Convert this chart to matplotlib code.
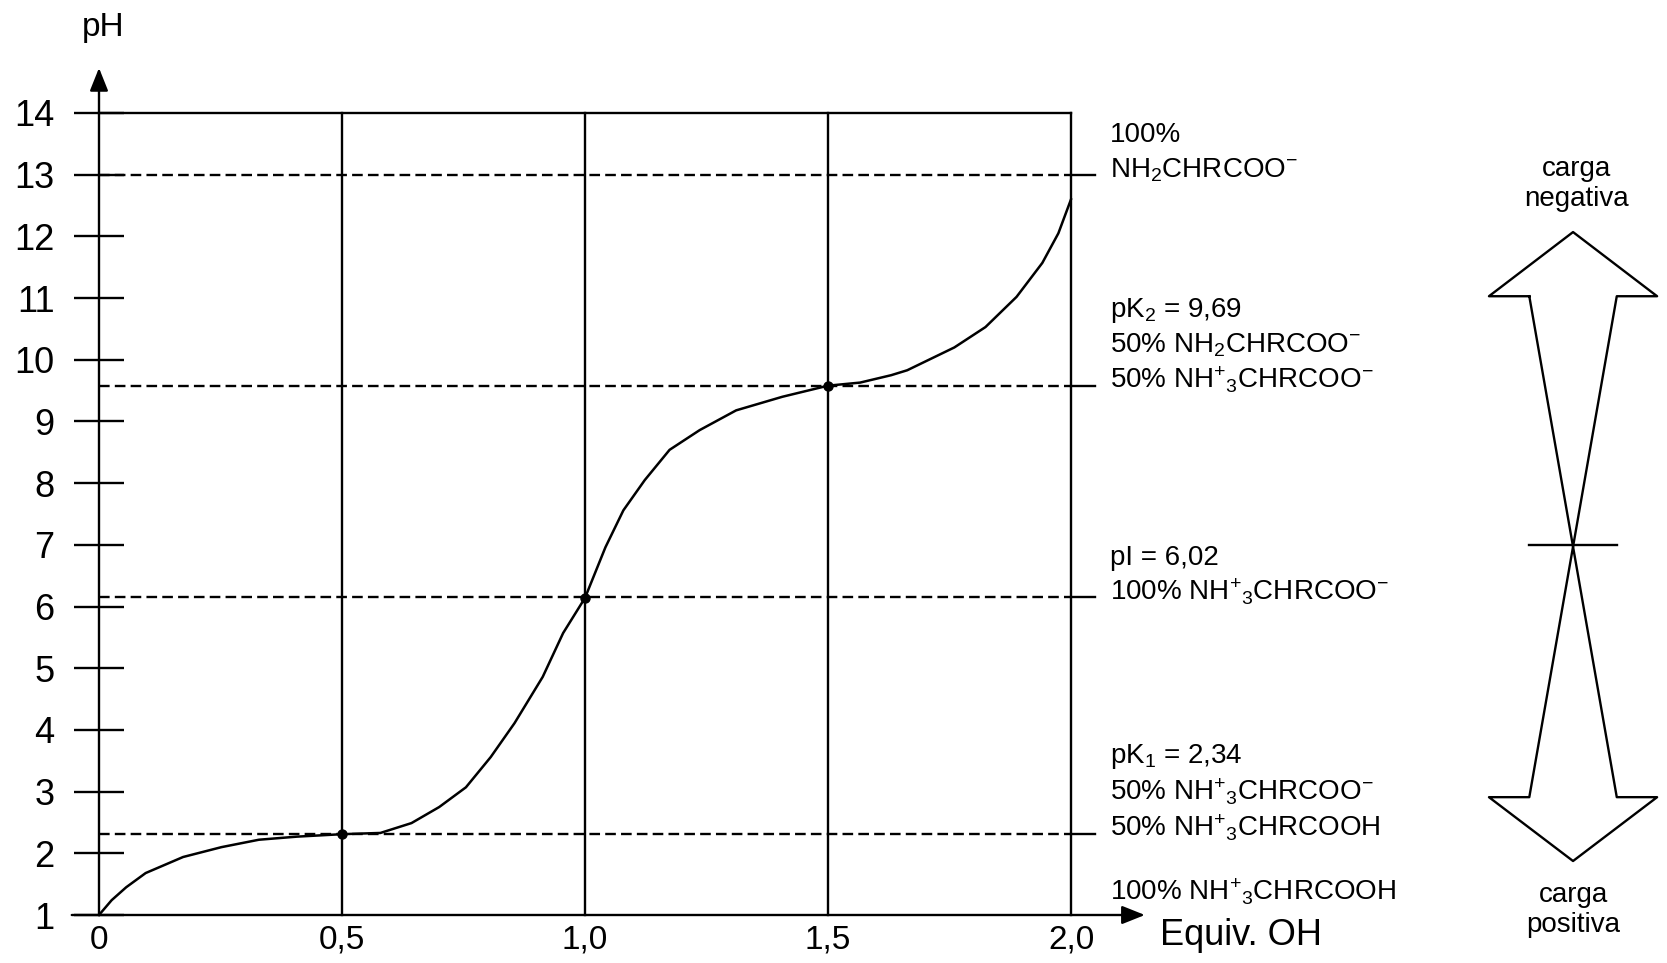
import matplotlib
matplotlib.use('Agg')
import matplotlib.pyplot as plt

plt.rcParams['font.family'] = ['Liberation Sans', 'DejaVu Sans']
plt.rcParams['mathtext.fontset'] = 'custom'
plt.rcParams['mathtext.rm'] = 'Liberation Sans'
plt.rcParams['mathtext.default'] = 'regular'

# curva de titulación
equiv = [0, 0.026, 0.056, 0.096, 0.173, 0.252, 0.329, 0.407, 0.5, 0.579, 0.643,
         0.700, 0.755, 0.806, 0.855, 0.913, 0.955, 1.0, 1.042, 1.079, 1.123,
         1.174, 1.236, 1.311, 1.406, 1.5, 1.566, 1.630, 1.663, 1.760, 1.824,
         1.888, 1.941, 1.974, 2.0]
ph = [1.0, 1.24, 1.45, 1.68, 1.94, 2.10, 2.22, 2.27, 2.31, 2.33, 2.49,
      2.75, 3.07, 3.56, 4.11, 4.86, 5.57, 6.14, 6.96, 7.56, 8.05,
      8.54, 8.86, 9.18, 9.40, 9.58, 9.63, 9.75, 9.83, 10.2, 10.53,
      11.02, 11.57, 12.05, 12.6]

puntos_x = [0.5, 1.0, 1.5]
puntos_y = [2.31, 6.14, 9.58]

lineas_ph = [13.0, 9.58, 6.15, 2.31]
verticales = [0.5, 1.0, 1.5, 2.0]

x_ticks = [0, 0.5, 1.0, 1.5, 2.0]
x_labels = ['0', '0,5', '1,0', '1,5', '2,0']
y_ticks = list(range(1, 15))

# etiquetas a la derecha: (pH de la línea base, texto)
etiquetas = [
    (13.53, '100%'),
    (12.96, '$NH_{2}CHRCOO^{-}$'),
    (10.69, 'pK$_{2}$ = 9,69'),
    (10.12, '50% $NH_{2}CHRCOO^{-}$'),
    (9.54, '50% $NH^{+}{}_{3}CHRCOO^{-}$'),
    (6.67, 'pI = 6,02'),
    (6.10, '100% $NH^{+}{}_{3}CHRCOO^{-}$'),
    (3.46, 'pK$_{1}$ = 2,34'),
    (2.86, '50% $NH^{+}{}_{3}CHRCOO^{-}$'),
    (2.28, '50% $NH^{+}{}_{3}CHRCOOH$'),
    (1.24, '100% $NH^{+}{}_{3}CHRCOOH$'),
]

fig = plt.figure(figsize=(16.67, 9.63), dpi=100)
ax = fig.add_axes([99 / 1667, 48 / 963, 972 / 1667, 802 / 963])
ax.set_xlim(0, 2)
ax.set_ylim(1, 14)
for s in ax.spines.values():
    s.set_visible(False)

lw = 1.7
ax.set_yticks(y_ticks)
ax.tick_params(axis='y', direction='inout', length=36, width=lw,
               labelsize=26, pad=14)
ax.set_xticks(x_ticks)
ax.set_xticklabels(x_labels)
ax.tick_params(axis='x', length=0, labelsize=24, pad=7)

# marco superior y verticales
ax.plot([0, 2.0], [14, 14], color='black', lw=lw, clip_on=False)
for xv in verticales:
    ax.plot([xv, xv], [1, 14], color='black', lw=lw, clip_on=False)

# líneas discontinuas y marcas a la derecha
for yv in lineas_ph:
    ax.plot([0, 2.0], [yv, yv], color='black', lw=lw, dashes=(4.5, 2.2), clip_on=False)
    ax.plot([2.0, 2.05], [yv, yv], color='black', lw=lw, clip_on=False)

# ejes con flechas
flecha = dict(arrowstyle='-|>,head_length=0.7,head_width=0.28', lw=lw,
              color='black', mutation_scale=20, shrinkA=0, shrinkB=0)
ax.annotate('', xy=(0, 14.73), xytext=(0, 1), arrowprops=flecha, annotation_clip=False)
ax.annotate('', xy=(2.152, 1), xytext=(-0.056, 1), arrowprops=flecha, annotation_clip=False)

ax.plot(equiv, ph, color='black', lw=1.8, clip_on=False)
ax.plot(puntos_x, puntos_y, 'o', color='black', ms=6.5, clip_on=False)

ax.text(0.008, 15.39, 'pH', fontsize=24, ha='center', va='center')
ax.text(2.183, 0.51, 'Equiv. OH', fontsize=26, ha='left', va='baseline')

for yb, txt in etiquetas:
    ax.text(2.08, yb, txt, fontsize=20, ha='left', va='baseline')

# esquema de carga (flecha doble cruzada)
cx = 3.033
tip_top, base_top = 12.07, 11.03
base_bot, tip_bot = 2.91, 1.875
ext, inn = 0.173, 0.09
xs = [cx - inn, cx - ext, cx, cx + ext, cx + inn,
      cx - inn, cx - ext, cx, cx + ext, cx + inn, cx - inn]
ys = [base_top, base_top, tip_top, base_top, base_top,
      base_bot, base_bot, tip_bot, base_bot, base_bot, base_top]
ax.plot(xs, ys, color='black', lw=lw, clip_on=False)
ax.plot([cx - 0.09, cx + 0.09], [7, 7], color='black', lw=lw, clip_on=False)

ax.text(cx + 0.008, 12.85, 'carga\nnegativa', fontsize=20, ha='center',
        va='center', linespacing=1.2)
ax.text(cx, 1.08, 'carga\npositiva', fontsize=20, ha='center',
        va='center', linespacing=1.2)

fig.savefig('out.png', dpi=100)
